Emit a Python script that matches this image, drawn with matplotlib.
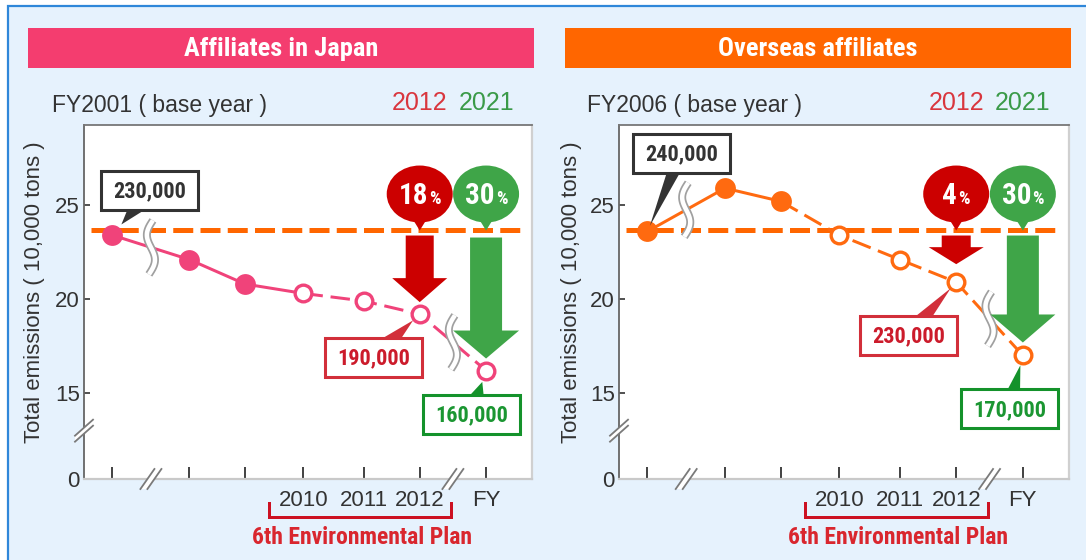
import numpy as np
import matplotlib
matplotlib.use("Agg")
import matplotlib.pyplot as plt
import matplotlib.transforms as mtrans
from matplotlib.patches import Ellipse, Polygon, Rectangle, FancyArrowPatch
from matplotlib.offsetbox import TextArea, HPacker, AnnotationBbox

# ------------------------------------------------------------------ data
categories = ["base", "2nd", "3rd", "2010", "2011", "2012", "2021"]
tick_labels = ["", "", "", "2010", "2011", "2012", "FY"]
yticks = [0, 15, 20, 25]

japan_values = [23.4, 22.1, 20.8, 20.3, 19.9, 19.2, 16.2]
overseas_values = [23.6, 25.9, 25.2, 23.4, 22.1, 20.9, 17.0]
japan_base_level = 23.7
overseas_base_level = 23.7

japan_title = "Affiliates in Japan"
overseas_title = "Overseas affiliates"
japan_base_text = "FY2001 ( base year )"
overseas_base_text = "FY2006 ( base year )"
japan_callouts = ["230,000", "190,000", "160,000"]      # base year, 2012, 2021
overseas_callouts = ["240,000", "230,000", "170,000"]
japan_targets = ["18", "30"]                             # % reduction 2012, 2021
overseas_targets = ["4", "30"]
target_years = ["2012", "2021"]
plan_label = "6th Environmental Plan"
ylabel_text = "Total emissions ( 10,000 tons )"

# ------------------------------------------------------------------ layout / style
W, H = 1086, 560
PT = 72.0 / 100.0          # points per pixel
REG = ["Liberation Sans", "DejaVu Sans"]
NARROW = ["Roboto Condensed", "Liberation Sans", "DejaVu Sans"]
plt.rcParams["font.family"] = REG

x_pos = np.array([0.5, 1.86, 2.84, 3.87, 4.93, 5.92, 7.09])
X_MAX = 7.9
Y_TOP = 29.26
BRK, Y0 = 13.0, 10.43
AX_TOP, AX_BOT = 125, 479

DARK = "#333333"
RED = "#cc0000"
GREEN = "#3fa548"
RED_TXT = "#d22f3a"
GREEN_TXT = "#1b9632"
GREEN_EDGE = "#14922b"
PINK = "#f0437a"
ORANGE = "#ff6a10"


def fx(px):
    return px / W


def fy(py):
    return 1 - py / H


def fwd(v):
    v = np.asarray(v, dtype=float)
    return np.where(v >= BRK, v, Y0 + v * (BRK - Y0) / BRK)


def inv(t):
    t = np.asarray(t, dtype=float)
    return np.where(t >= BRK, t, (t - Y0) * BRK / (BRK - Y0))


fig = plt.figure(figsize=(W / 100, H / 100), dpi=100)
fig.patch.set_facecolor("white")

# light-blue frame
fig.add_artist(Rectangle((fx(8), fy(590)), fx(1120) - fx(8), fy(6) - fy(590),
                         transform=fig.transFigure, fc="#e6f2fd", ec="#2f87d9",
                         lw=1.6, zorder=-2))


def title_bar(x0, x1, text, color):
    fig.add_artist(Rectangle((fx(x0), fy(68)), fx(x1) - fx(x0), fy(28) - fy(68),
                             transform=fig.transFigure, fc=color, ec="none", zorder=-1))
    fig.text(fx((x0 + x1) / 2), fy(49), text, ha="center", va="center", color="white",
             fontsize=19, fontweight="bold", family=NARROW)


def anchor(ax, xd, yd):
    return mtrans.ScaledTranslation(xd, yd, ax.transData)


def wavy_break(ax, xd, yd):
    tr = anchor(ax, xd, yd)
    u = np.linspace(0, 1, 80)
    ys = 27 - 54 * u
    xs = -5 * np.sin(2 * np.pi * u) + 2 * (1 - 2 * u)
    ax.plot(xs, ys, transform=tr, color="#a0a0a0", lw=8 * PT, solid_capstyle="butt", zorder=6)
    ax.plot(xs, ys, transform=tr, color="white", lw=4.5 * PT, solid_capstyle="butt", zorder=6.1)


def axis_break(ax, xd, yd, half, sep):
    tr = anchor(ax, xd, yd)
    hx, hy = half
    sx, sy = sep
    ax.add_patch(Polygon([(-sx - hx, -sy - hy), (-sx + hx, -sy + hy), (sx + hx, sy + hy), (sx - hx, sy - hy)],
                         closed=True, transform=tr, fc="white", ec="none", zorder=7, clip_on=False))
    for s in (-1, 1):
        ax.plot([s * sx - hx, s * sx + hx], [s * sy - hy, s * sy + hy], transform=tr,
                color="#7a7a7a", lw=1.3, zorder=7.1, clip_on=False)


def bubble(ax, xd, base, color, number):
    tr = anchor(ax, xd, base)
    ax.add_patch(Ellipse((0, 35.5), 66, 57, transform=tr, fc=color, ec="none", zorder=8))
    ax.add_patch(Polygon([(-8, 12), (8, 12), (0, -1)], closed=True, transform=tr,
                         fc=color, ec="none", zorder=8))
    pack = HPacker(children=[
        TextArea(number, textprops=dict(color="white", fontsize=21, fontweight="bold", family=NARROW)),
        TextArea("%", textprops=dict(color="white", fontsize=13, fontweight="bold", family=NARROW)),
    ], align="baseline", pad=0, sep=1)
    ab = AnnotationBbox(pack, (xd, base), xybox=(0, 34 * PT), xycoords="data",
                        boxcoords="offset points", frameon=False, pad=0,
                        box_alignment=(0.5, 0.5), zorder=9)
    ax.add_artist(ab)


def down_arrow(ax, xd, base, value, color, geom):
    hl, hw, tw, sa, sb = geom
    ax.annotate("", xy=(xd, value), xytext=(xd, base), xycoords="data", textcoords="data",
                arrowprops=dict(arrowstyle=f"simple,head_length={hl * PT},head_width={hw * PT},tail_width={tw * PT}",
                                mutation_scale=1, fc=color, ec="none", lw=0,
                                shrinkA=sa * PT, shrinkB=sb * PT),
                zorder=6.5)


def callout(ax, xd, yd, text, geom, edge, tcolor):
    dx, dy, shrink = geom
    tr = anchor(ax, xd, yd)
    bw, bh = 97, 39
    full = np.hypot(dx, dy)
    L = full - shrink
    e = min(bh / 2 / max(abs(dy), 1e-6), bw / 2 / max(abs(dx), 1e-6)) * full
    tail_px = 12.0 / max(1 - e / L, 0.2)
    arr = FancyArrowPatch((dx, dy), (0, 0), transform=tr,
                          arrowstyle=f"wedge,tail_width={tail_px * PT},shrink_factor=0.5",
                          mutation_scale=1, fc=edge, ec="none", lw=0,
                          shrinkA=0, shrinkB=shrink * PT, zorder=9)
    ax.add_patch(arr)
    ax.add_patch(Rectangle((dx - bw / 2, dy - bh / 2), bw, bh, transform=tr, fc="white",
                           ec=edge, lw=2.2, zorder=10))
    ax.text(dx, dy - 1, text, transform=tr, ha="center", va="center", color=tcolor,
            fontsize=16, fontweight="bold", family=NARROW, zorder=11)


def draw_panel(left_px, width_px, values, base_level, color, n_actual, n_solid,
               callouts, callout_geom, targets, arrow_geom, base_text, base_text_x,
               ylabel_x_px):
    ax = fig.add_axes([fx(left_px), fy(AX_BOT), width_px / W, (AX_BOT - AX_TOP) / H])
    ax.set_facecolor("white")
    ax.set_yscale("function", functions=(fwd, inv))
    ax.set_xlim(0, X_MAX)
    ax.set_ylim(0, Y_TOP)
    ax.set_autoscale_on(False)

    # spines
    for side, c, lw in (("left", "#666666", 1.3), ("top", "#777777", 1.3),
                        ("bottom", "#c9c9c9", 1.6), ("right", "#d0d0d0", 1.6)):
        ax.spines[side].set_color(c)
        ax.spines[side].set_linewidth(lw)

    ax.set_xticks(x_pos, tick_labels)
    ax.set_yticks(yticks, [str(t) for t in yticks])
    ax.tick_params(axis="x", direction="in", length=9, width=1.3, color=DARK,
                   labelsize=16, labelcolor=DARK, pad=8)
    ax.tick_params(axis="y", direction="in", length=4.5, width=1.2, color=DARK,
                   labelsize=16, labelcolor=DARK, pad=3)
    ax.yaxis.get_major_ticks()[0].tick1line.set_visible(False)

    ax.set_ylabel(ylabel_text, fontsize=16, color=DARK)
    ax.yaxis.set_label_coords(-(left_px - ylabel_x_px) / width_px, (AX_BOT - 292) / (AX_BOT - AX_TOP))

    # base level dashed line
    ax.axhline(base_level, xmin=0.015, xmax=0.98, color="#ff6600", lw=5 * PT,
               dashes=(4.0, 1.45), zorder=3)

    # data line
    ax.plot(x_pos[:n_solid + 1], values[:n_solid + 1], color=color, lw=3 * PT,
            solid_capstyle="butt", zorder=4)
    ax.plot(x_pos[n_solid:], values[n_solid:], color=color, lw=3 * PT,
            dashes=(6.5, 2.6), zorder=4)
    ax.plot(x_pos[:n_actual], values[:n_actual], "o", color=color, ms=15, mew=0, zorder=5)
    ax.plot(x_pos[n_actual:], values[n_actual:], "o", mfc="white", mec=color, ms=12,
            mew=2.4, zorder=5)

    # wavy breaks on the line
    wavy_break(ax, (x_pos[0] + x_pos[1]) / 2, (values[0] + values[1]) / 2)
    wavy_break(ax, (x_pos[5] + x_pos[6]) / 2, (values[5] + values[6]) / 2)

    # axis breaks
    axis_break(ax, (x_pos[0] + x_pos[1]) / 2, 0, (7, 10), (3.5, 0))
    axis_break(ax, (x_pos[5] + x_pos[6]) / 2, 0, (7, 10), (3.5, 0))
    axis_break(ax, 0, BRK, (9, 8), (0, 3))

    # target arrows and bubbles
    down_arrow(ax, x_pos[5], base_level, values[5], RED, arrow_geom[0])
    down_arrow(ax, x_pos[6], base_level, values[6], GREEN, arrow_geom[1])
    bubble(ax, x_pos[5], base_level, RED, targets[0])
    bubble(ax, x_pos[6], base_level, GREEN, targets[1])

    # value callouts
    callout(ax, x_pos[0], values[0], callouts[0], callout_geom[0], DARK, DARK)
    callout(ax, x_pos[5], values[5], callouts[1], callout_geom[1], RED_TXT, "#cc1b2b")
    callout(ax, x_pos[6], values[6], callouts[2], callout_geom[2], GREEN_EDGE, GREEN_TXT)

    # top texts
    fig.text(fx(base_text_x), fy(112), base_text, ha="left", va="baseline",
             color=DARK, fontsize=16.5)
    btr = mtrans.blended_transform_factory(ax.transData, fig.transFigure)
    ax.text(x_pos[5], fy(110), target_years[0], transform=btr, ha="center", va="baseline",
            color="#d9363e", fontsize=18)
    ax.text(x_pos[6], fy(110), target_years[1], transform=btr, ha="center", va="baseline",
            color="#3a9a48", fontsize=18)

    # environmental plan bracket
    atr = mtrans.blended_transform_factory(ax.transData, ax.transAxes)
    yb = -(517 - AX_BOT) / (AX_BOT - AX_TOP)
    yt = -(503 - AX_BOT) / (AX_BOT - AX_TOP)
    xl, xr = x_pos[3] - 0.6, x_pos[5] + 0.55
    ax.plot([xl, xl, xr, xr], [yt, yb, yb, yt], transform=atr, color="#cc1122",
            lw=3 * PT, clip_on=False, solid_joinstyle="miter")
    ax.text((x_pos[3] + x_pos[5]) / 2, -(537 - AX_BOT) / (AX_BOT - AX_TOP), plan_label,
            transform=atr, ha="center", va="center", color="#d9262e", fontsize=17,
            fontweight="bold", family=NARROW)
    return ax


title_bar(27.7, 534, japan_title, "#f43d6f")
title_bar(564.5, 1071, overseas_title, "#ff6600")

draw_panel(84, 448, japan_values, japan_base_level, PINK, 3, 3,
           japan_callouts, [(37.5, 44.5, 14), (-46, -43.5, 9), (-14.5, -43.5, 12)],
           japan_targets, [(24, 55, 28, 6, 12), (28, 66, 32, 8, 12)],
           japan_base_text, 52, 45)
draw_panel(619, 450, overseas_values, overseas_base_level, ORANGE, 3, 2,
           overseas_callouts, [(34, 78, 6), (-48, -53, 8), (-13.6, -53.5, 10)],
           overseas_targets, [(17, 55, 29, 6, 18), (28, 65, 32, 6, 13)],
           overseas_base_text, 587, 582)

fig.savefig("out.png", dpi=100, facecolor=fig.get_facecolor())
